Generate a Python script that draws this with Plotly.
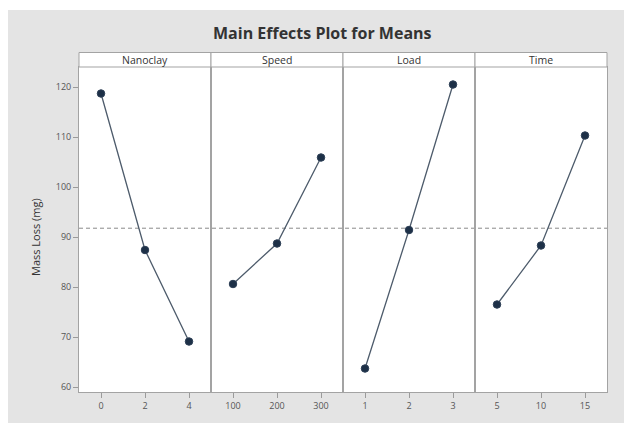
import plotly.graph_objects as go
from plotly.subplots import make_subplots

# Factor levels and mean mass loss (mg) at each level
factors = ["Nanoclay", "Speed", "Load", "Time"]
nanoclay_levels = ["0", "2", "4"]
nanoclay_means = [118.7, 87.4, 69.1]
speed_levels = ["100", "200", "300"]
speed_means = [80.6, 88.7, 105.9]
load_levels = ["1", "2", "3"]
load_means = [63.7, 91.4, 120.5]
time_levels = ["5", "10", "15"]
time_means = [76.5, 88.3, 110.3]
y_ticks = [60, 70, 80, 90, 100, 110, 120]

levels = [nanoclay_levels, speed_levels, load_levels, time_levels]
means = [nanoclay_means, speed_means, load_means, time_means]
all_vals = [v for m in means for v in m]
grand_mean = sum(all_vals) / len(all_vals)

W, H = 624, 423
L, R, T, B = 79, 17, 67, 31
pw, ph = W - L - R, H - T - B

FONT = "Open Sans"
fig = make_subplots(rows=1, cols=4, shared_yaxes=True, horizontal_spacing=0)

for i, (lv, mv) in enumerate(zip(levels, means)):
    fig.add_trace(go.Scatter(
        x=lv, y=mv, mode="lines+markers",
        line=dict(color="#4d5b6b", width=1.3),
        marker=dict(color="#1d3047", size=7.5, line=dict(color="#2c3e55", width=1)),
        showlegend=False, hoverinfo="skip"), row=1, col=i + 1)
    fig.update_xaxes(type="category", range=[-0.5, 2.5], row=1, col=i + 1,
                     showline=True, mirror=True, linecolor="#a3a3a3", linewidth=1,
                     ticks="outside", ticklen=5, tickcolor="#9b9b9b",
                     showgrid=False, zeroline=False,
                     tickfont=dict(family=FONT, size=9, color="#555555"))

fig.update_yaxes(range=[59, 124], tickvals=y_ticks, showgrid=False, zeroline=False,
                 showline=True, mirror=True, linecolor="#a3a3a3", linewidth=1)
fig.update_yaxes(ticks="outside", ticklen=5, tickcolor="#9b9b9b",
                 tickfont=dict(family=FONT, size=9, color="#555555"), row=1, col=1)

shapes = []
# gray graph region behind the panels
shapes.append(dict(type="rect", xref="paper", yref="paper", layer="below",
                   x0=(8 - L) / pw, x1=(W - L) / pw, y0=-B / ph, y1=1 + (T - 10) / ph,
                   fillcolor="#e4e4e4", line=dict(width=0)))
# white data region
shapes.append(dict(type="rect", xref="paper", yref="paper", layer="below",
                   x0=0, x1=1, y0=0, y1=1,
                   fillcolor="#ffffff", line=dict(width=0)))
# strip headers above each panel
strip_h = 14.5 / ph
for i, f in enumerate(factors):
    shapes.append(dict(type="rect", xref="paper", yref="paper",
                       x0=i / 4, x1=(i + 1) / 4, y0=1, y1=1 + strip_h,
                       fillcolor="#ffffff", line=dict(color="#a3a3a3", width=1)))
# grand mean reference line across all panels
shapes.append(dict(type="line", xref="paper", yref="y", x0=0, x1=1,
                   y0=grand_mean, y1=grand_mean,
                   line=dict(color="#8a8a8a", width=1, dash="4px,3px"), layer="below"))

annotations = [
    dict(text="<b>Main Effects Plot for Means</b>", xref="paper", yref="paper",
         x=(322 - L) / pw, y=1 + (T - 33) / ph, showarrow=False,
         xanchor="center", yanchor="middle",
         font=dict(family=FONT, size=16, color="#333333")),
    dict(text="Mass Loss (mg)", xref="paper", yref="paper", textangle=-90,
         x=(36 - L) / pw, y=(H - B - 237) / ph, showarrow=False,
         xanchor="center", yanchor="middle",
         font=dict(family=FONT, size=11, color="#333333")),
]
for i, f in enumerate(factors):
    annotations.append(dict(text=f, xref="paper", yref="paper",
                            x=(i + 0.5) / 4, y=1 + strip_h / 2, showarrow=False,
                            xanchor="center", yanchor="middle",
                            font=dict(family=FONT, size=10.5, color="#333333")))

fig.update_layout(width=W, height=H, margin=dict(l=L, r=R, t=T, b=B),
                  paper_bgcolor="#ffffff", plot_bgcolor="#ffffff",
                  shapes=shapes, annotations=annotations)

fig.write_html("out.html")
